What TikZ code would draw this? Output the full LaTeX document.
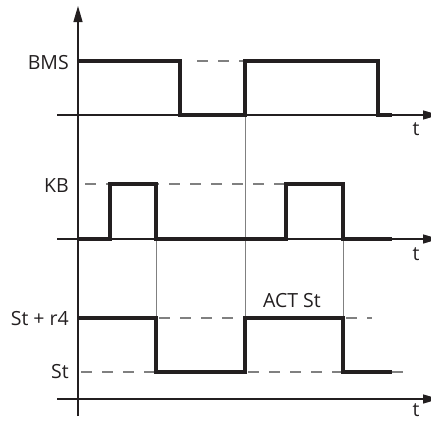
\documentclass[tikz,border=0pt]{standalone}
\usepackage{fontspec}
\setmainfont{Open Sans}
\usetikzlibrary{arrows.meta}
\definecolor{ink}{HTML}{231F20}
\definecolor{guide}{HTML}{808080}
\tikzset{
  axisline/.style={draw=ink, line width=1.3pt},
  axisarrow/.style={axisline, -{Triangle[length=16pt,width=9pt]}},
  sig/.style={draw=ink, line width=4pt, line join=miter, line cap=butt},
  guideline/.style={draw=guide, line width=1pt},
  refdash/.style={draw=guide, line width=1.4pt, dash pattern=on 11pt off 10pt},
  lab/.style={inner sep=0pt, font=\fontsize{19.5}{19.5}\selectfont, text=ink, anchor=base east},
  tlab/.style={inner sep=0pt, font=\fontsize{19.5}{19.5}\selectfont, text=ink, anchor=base},
}
\begin{document}
\begin{tikzpicture}[x=1pt,y=-1pt]
\useasboundingbox (0,0) rectangle (431,421);
% reference dashed lines
\draw[refdash] (197,61) -- (245,61);
\draw[refdash] (85,184) -- (286,184);
\draw[refdash] (159,318) -- (245,318);
\draw[refdash] (346,318) -- (372,318);
\draw[refdash] (81,372) -- (156,372);
\draw[refdash] (248,372) -- (343,372);
\draw[refdash] (392,372) -- (404,372);
% guide lines
\draw[guideline] (245,115) -- (245,318);
\draw[guideline] (156,239) -- (156,318);
\draw[guideline] (343,239) -- (343,318);
% axes
\coordinate (vb) at (78,416);
\coordinate (vt) at (78,6);
\draw[axisarrow] (vb) -- (vt);
\coordinate (a1s) at (57,115); \coordinate (a1e) at (439,115);
\coordinate (a2s) at (57,239); \coordinate (a2e) at (439,239);
\coordinate (a3s) at (57,399); \coordinate (a3e) at (439,399);
\draw[axisarrow] (a1s) -- (a1e);
\draw[axisarrow] (a2s) -- (a2e);
\draw[axisarrow] (a3s) -- (a3e);
% signals
\draw[sig] (78,61) -- (180,61) -- (180,115) -- (245,115) -- (245,61) -- (378,61) -- (378,115) -- (392,115);
\draw[sig] (78,239) -- (110,239) -- (110,184) -- (156,184) -- (156,239) -- (286,239) -- (286,184) -- (343,184) -- (343,239) -- (392,239);
\draw[sig] (78,318) -- (156,318) -- (156,372) -- (245,372) -- (245,318) -- (343,318) -- (343,372) -- (392,372);
% labels
\node[lab] (bms) at (69,69) {BMS};
\node[lab] (kb) at (69,192) {KB};
\node[lab] (str4) at (69,325) {St + r4};
\node[lab] (st) at (69,378) {St};
\node[tlab] (act) at (292,307) {ACT St};
\node[tlab] (t1) at (416,135) {t};
\node[tlab] (t2) at (416,260) {t};
\node[tlab] (t3) at (416,416) {t};
\end{tikzpicture}
\end{document}
